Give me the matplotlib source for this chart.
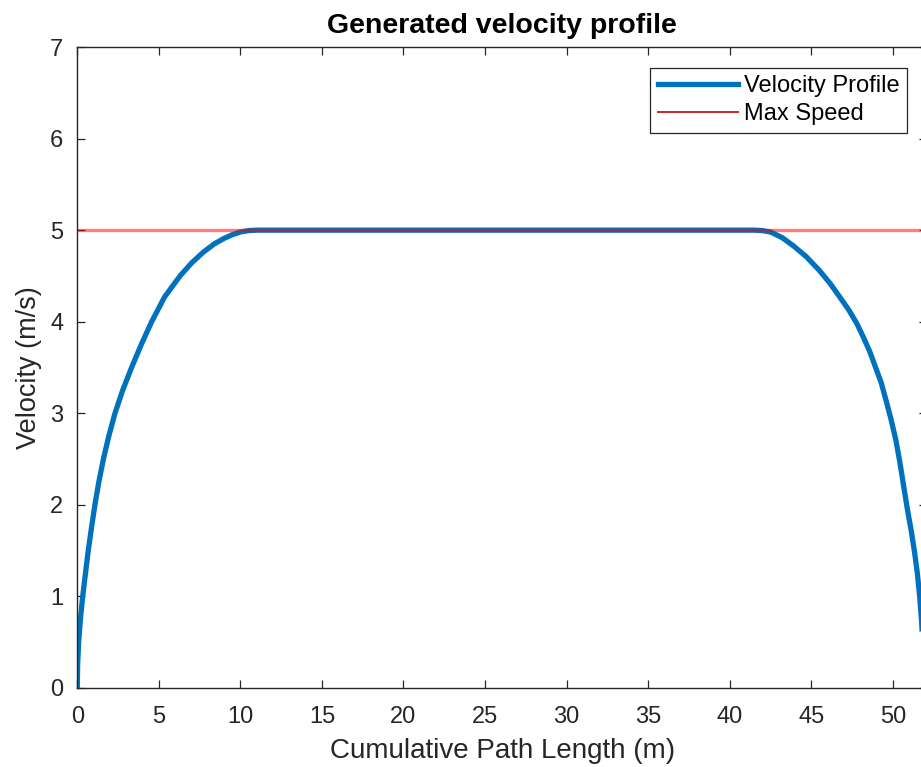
import matplotlib
matplotlib.use("Agg")
import matplotlib.pyplot as plt

# values
path_length = [0.0, 0.02, 0.08, 0.19, 0.33, 0.5, 0.67, 0.87, 1.08, 1.32, 1.6, 1.93, 2.31,
               2.78, 3.33, 3.92, 4.56, 5.35, 6.3, 7.0, 7.73, 8.4, 9.0, 9.5, 10.0, 10.5, 11.0,
               15, 20, 25, 30, 35, 40,
               41.5, 42.0, 42.5, 43.2, 43.9, 44.7, 45.5, 46.15, 46.75, 47.3, 47.8, 48.2, 48.6,
               48.95, 49.3, 49.65, 49.9, 50.2, 50.45, 50.7, 50.9, 51.13, 51.34, 51.51, 51.65,
               51.76, 51.84, 51.88, 51.9]
velocity = [0.0, 0.25, 0.5, 0.75, 1.0, 1.25, 1.5, 1.75, 2.0, 2.25, 2.5, 2.75, 3.0,
            3.25, 3.5, 3.75, 4.0, 4.27, 4.5, 4.64, 4.76, 4.85, 4.91, 4.95, 4.98, 4.995, 5.0,
            5.0, 5.0, 5.0, 5.0, 5.0, 5.0,
            5.0, 4.995, 4.98, 4.92, 4.83, 4.71, 4.56, 4.42, 4.27, 4.13, 3.98, 3.83, 3.67,
            3.5, 3.33, 3.1, 2.93, 2.7, 2.45, 2.17, 1.95, 1.72, 1.48, 1.25, 1.0,
            0.75, 0.5, 0.25, 0.0]
max_speed = 5
x_ticks = [0, 5, 10, 15, 20, 25, 30, 35, 40, 45, 50]
y_ticks = [0, 1, 2, 3, 4, 5, 6, 7]

plt.rcParams['font.family'] = ['Liberation Sans', 'DejaVu Sans']

fig = plt.figure(figsize=(9.21, 7.67), dpi=100)
ax = fig.add_axes([77.3 / 921, 79 / 767, (927 - 77.3) / 921, (687 - 46) / 767])

ax.plot(path_length, velocity, color='#0072BD', lw=3.8, label='Velocity Profile',
        solid_joinstyle='round')
ax.axhline(max_speed, color='red', lw=2.4, alpha=0.5, label='Max Speed')

ax.set_xlim(0, 52.1)
ax.set_ylim(0, 7)
ax.set_xticks(x_ticks)
ax.set_yticks(y_ticks)
ax.tick_params(direction='in', length=6, width=0.9, top=True, right=True,
               labelsize=17, colors='#262626')
ax.tick_params(axis='x', pad=13)
ax.tick_params(axis='y', pad=10)
for s in ax.spines.values():
    s.set_color('#262626')
    s.set_linewidth(1.0)

ax.set_title('Generated velocity profile', fontsize=20.5, fontweight='bold', pad=10)
ax.set_xlabel('Cumulative Path Length (m)', fontsize=20, color='#262626', labelpad=7)
ax.set_ylabel('Velocity (m/s)', fontsize=19.5, color='#262626', labelpad=6)

leg = ax.legend(loc='upper right', bbox_to_anchor=(0.9765, 0.968),
                fontsize=17, fancybox=False, edgecolor='#262626', framealpha=1,
                borderpad=0.32, handlelength=3.4, handletextpad=0.25, labelspacing=0.25,
                borderaxespad=0)
leg.get_frame().set_linewidth(0.9)
leg.get_lines()[1].set_alpha(1)
leg.get_lines()[1].set_color('#C8282A')
leg.get_lines()[1].set_linewidth(1.4)

fig.savefig('out.png', dpi=100)
